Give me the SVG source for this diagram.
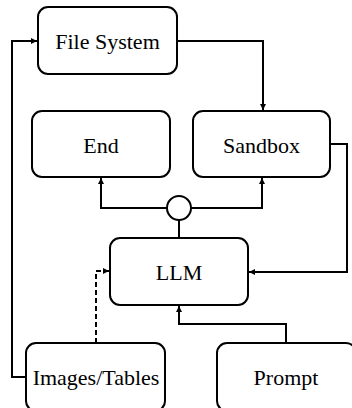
<svg xmlns="http://www.w3.org/2000/svg" width="352" height="408" viewBox="0 0 352 408">
<style>
.box{fill:#fff;stroke:#000;stroke-width:2}
.c{fill:none;stroke:#000;stroke-width:2}
.d{stroke-dasharray:5,3}
text{font-family:'Liberation Serif','Times New Roman',Times,'DejaVu Serif',serif;font-size:22px;text-anchor:middle;fill:#000}
</style>
<defs>
<marker id="a" markerUnits="userSpaceOnUse" markerWidth="7" markerHeight="7" refX="6" refY="3.5" orient="auto">
<path d="M0,0.5 L6,3.5 L0,6.5 Z" fill="#000"/>
</marker>
</defs>
<rect width="352" height="408" fill="#fff"/>
<g id="connectors">
<path class="c" d="M177,41 H263 V110" marker-end="url(#a)"/>
<path class="c" d="M330,144 H347 V272 H249" marker-end="url(#a)"/>
<path class="c" d="M167,208 H101 V178" marker-end="url(#a)"/>
<path class="c" d="M191,208 H262 V178" marker-end="url(#a)"/>
<path class="c" d="M179,220 V238"/>
<path class="c" d="M286,343 V324 H179 V306" marker-end="url(#a)"/>
<path class="c d" d="M96,343 V271 H109" marker-end="url(#a)"/>
<path class="c" d="M26,377 H12 V41 H37" marker-end="url(#a)"/>
</g>
<g id="fs"><rect class="box" x="38" y="7" width="139" height="67" rx="10"/><text x="107.5" y="48.5">File System</text></g>
<g id="end"><rect class="box" x="32" y="111" width="138" height="66" rx="10"/><text x="101" y="152.5">End</text></g>
<g id="sandbox"><rect class="box" x="193" y="111" width="137" height="66" rx="10"/><text x="261.5" y="152.5">Sandbox</text></g>
<g id="junction"><circle class="box" cx="179" cy="208" r="12"/></g>
<g id="llm"><rect class="box" x="110" y="238" width="138" height="67" rx="10"/><text x="179" y="280">LLM</text></g>
<g id="images"><rect class="box" x="26" y="343" width="139" height="68" rx="10"/><text x="96" y="385">Images/Tables</text></g>
<g id="prompt"><rect class="box" x="217" y="343" width="139" height="68" rx="10"/><text x="286" y="385">Prompt</text></g>
</svg>
